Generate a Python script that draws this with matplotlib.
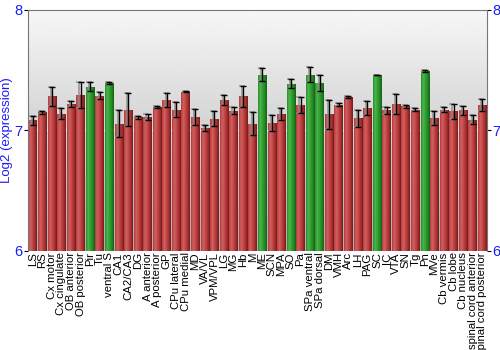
import numpy as np
import matplotlib
matplotlib.use("Agg")
import matplotlib.pyplot as plt
from matplotlib.colors import LinearSegmentedColormap

plt.rcParams["font.family"] = ["Liberation Sans", "DejaVu Sans"]

regions = ["LS", "RS", "Cx motor", "Cx cingulate", "OB anterior", "OB posterior",
           "Pir", "Tu", "ventral S", "CA1", "CA2/CA3", "DG", "A anterior",
           "A posterior", "GP", "CPu lateral", "CPu medial", "MD", "VA/VL",
           "VPM/VPL", "LG", "MG", "Hb", "M", "ME", "SCN", "MPA", "SO", "Pa",
           "SPa ventral", "SPa dorsal", "DM", "VMH", "Arc", "LH", "PAG", "SC",
           "IC", "VTA", "SN", "Tg", "Pn", "MVe", "Cb vermis", "Cb lobe",
           "Cb nucleus", "spinal cord anterior", "spinal cord posterior"]

expression = [7.083, 7.150, 7.283, 7.139, 7.222, 7.294, 7.363, 7.288, 7.394,
              7.056, 7.172, 7.108, 7.110, 7.194, 7.255, 7.172, 7.322, 7.110,
              7.022, 7.097, 7.250, 7.164, 7.283, 7.056, 7.463, 7.061, 7.136,
              7.388, 7.211, 7.463, 7.394, 7.133, 7.214, 7.275, 7.100, 7.186,
              7.460, 7.166, 7.219, 7.200, 7.172, 7.494, 7.103, 7.172, 7.158,
              7.166, 7.089, 7.211]

error = [0.036, 0.011, 0.078, 0.048, 0.024, 0.110, 0.039, 0.029, 0.010,
         0.110, 0.137, 0.011, 0.028, 0.011, 0.057, 0.062, 0.003, 0.065,
         0.024, 0.062, 0.040, 0.028, 0.086, 0.097, 0.054, 0.064, 0.048,
         0.039, 0.066, 0.065, 0.066, 0.123, 0.014, 0.007, 0.073, 0.055,
         0.003, 0.029, 0.083, 0.011, 0.015, 0.007, 0.061, 0.019, 0.060,
         0.039, 0.037, 0.051]

highlighted = ["Pir", "ventral S", "ME", "SO", "SPa ventral", "SPa dorsal", "SC", "Pn"]

y_ticks = [6, 7, 8]
y_label = "Log2 (expression)"

red_map = LinearSegmentedColormap.from_list(
    "red_bar", ["#b03a3a", "#d26262", "#c44848", "#a83030", "#7a1a1a"])
green_map = LinearSegmentedColormap.from_list(
    "green_bar", ["#2a8a2a", "#4cb84c", "#33a033", "#228a22", "#156015"])

fig = plt.figure(figsize=(5, 3.5), dpi=100)
ax = fig.add_axes([0.056, 0.283, 0.918, 0.689])

x = np.arange(len(regions))

# vertical grey gradient behind the bars
bg = np.linspace(0.97, 0.68, 256).reshape(-1, 1)
ax.imshow(bg, cmap="gray", vmin=0, vmax=1, aspect="auto",
          extent=(-0.5, len(regions) - 0.5, 6, 8), origin="upper",
          zorder=0, interpolation="bilinear")

ax.axhline(7, color="white", lw=1, alpha=0.8, zorder=1)

bars = ax.bar(x, [v - 6 for v in expression], bottom=6, width=0.9,
              color="none", edgecolor="none", zorder=2)
shade = np.linspace(0, 1, 64).reshape(1, -1)
for name, rect in zip(regions, bars):
    cmap = green_map if name in highlighted else red_map
    x0, y0 = rect.get_x(), rect.get_y()
    w, h = rect.get_width(), rect.get_height()
    im = ax.imshow(shade, cmap=cmap, aspect="auto",
                   extent=(x0, x0 + w, y0, y0 + h), zorder=2,
                   interpolation="bilinear")
    im.set_clip_path(rect)

# shadowed error bars
ax.errorbar(x - 0.12, expression, yerr=error, fmt="none", ecolor="#888888",
            elinewidth=1.2, capsize=2.5, capthick=1.2, zorder=3, alpha=0.8)
ax.errorbar(x, expression, yerr=error, fmt="none", ecolor="black",
            elinewidth=1.0, capsize=2.5, capthick=1.0, zorder=4)

ax.set_xlim(-0.5, len(regions) - 0.5)
ax.set_ylim(6, 8)
ax.set_xticks(x)
ax.set_xticklabels(regions, rotation=90, fontsize=8.2)
ax.tick_params(axis="x", length=0, pad=1)
ax.set_yticks(y_ticks)
ax.tick_params(axis="y", labelsize=10.5, labelcolor="#1a1aff", length=3,
               color="black", right=True, labelright=True, pad=1)
ax.set_ylabel(y_label, color="#1a1aff", fontsize=9.5)
ax.yaxis.set_label_coords(-0.033, 0.5)

for side in ["left", "right", "top"]:
    ax.spines[side].set_color("#777777")
ax.spines["bottom"].set_visible(False)

fig.savefig("out.png", dpi=100)
